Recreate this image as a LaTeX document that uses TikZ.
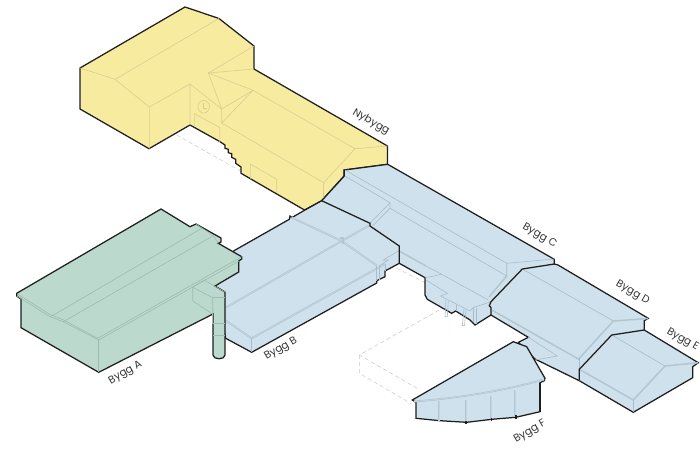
\documentclass[tikz,border=0pt]{standalone}
\usepackage{fontspec}
\setmainfont{Poppins}
\definecolor{yel}{HTML}{F7EBA0}
\definecolor{yelL}{HTML}{D8CE90}
\definecolor{grn}{HTML}{BBD9CC}
\definecolor{grnL}{HTML}{9CBCAE}
\definecolor{blu}{HTML}{CFE1EC}
\definecolor{bluL}{HTML}{A8BDC9}
\definecolor{bluP}{HTML}{B2C6D2}
\definecolor{ink}{HTML}{1E1E1E}
\tikzset{
 x=1pt,y=-1pt,
 outline/.style={draw=ink,line width=1.25pt,line join=miter},
 edgeline/.style={draw=ink,line width=1.25pt},
 yline/.style={draw=yelL,line width=.6pt},
 gline/.style={draw=grnL,line width=.6pt},
 bline/.style={draw=bluL,line width=.6pt},
 bthick/.style={draw=bluP,line width=1.5pt},
 bdouble/.style={draw=bluP,line width=.6pt,double=blu!60!bluP,double distance=.7pt},
 ghost/.style={draw=black!22,line width=.5pt,dash pattern=on 4pt off 3pt},
 lab/.style={font=\fontsize{10.5}{12}\selectfont,text=black!80,inner sep=0pt},
}
\begin{document}
\begin{tikzpicture}
\useasboundingbox (0,0) rectangle (700,469);
% ghost outlines
\draw[ghost] (176.7,135) -- (241.7,171.7);
\draw[ghost] (396.7,268.3) -- (425.3,282.7);
\draw[ghost] (445,306.7) -- (359.3,355) -- (420,390);
\draw[ghost] (359.3,355) -- (359.3,373.3) -- (411.7,404);
% Nybygg
\fill[yel,outline] (80,68) -- (185,7) -- (219,18.5) -- (254,46) -- (254,69) -- (387.5,146) -- (387.5,164.3) -- (344,170) -- (344,176) -- (321.7,200.7) -- (304.5,210) -- (241,173.3) -- (241,167) -- (235.7,163.3) -- (235.7,159.3) -- (231.7,157.3) -- (231.7,153.7) -- (228.3,152.7) -- (228.3,149.3) -- (225,148.3) -- (225,145) -- (220,141.7) -- (190,125) -- (149,148.7) -- (80,109) -- cycle;
\draw[yline] (80,68) -- (115,79.3) -- (219,18.5);
\draw[yline] (115,79.3) -- (149.3,107) -- (149.3,148.7);
\draw[yline] (149.3,107) -- (190,84) -- (190,125);
\draw[yline] (190,84) -- (221.7,109) -- (208.3,73) -- (254,46);
\draw[yline] (208.3,73) -- (254,69);
\draw[yline] (208.3,73) -- (253,90.3) -- (221.7,109) -- (221.7,123) -- (253,90.3);
\draw[yline] (253,90.3) -- (355,148.7) -- (387.5,146);
\draw[yline] (355,148.7) -- (323.7,182.7) -- (221.7,123);
\draw[yline] (323.7,182.7) -- (323.7,199);
\draw[yline] (194.3,127) -- (194.3,113.7) -- (219.7,127.5) -- (219.7,142);
\draw[yline] (250.3,179) -- (250.3,164) -- (276.7,179.3) -- (276.7,193);
\draw[yline] (203.7,106.7) circle[x radius=5.8,y radius=6.3];
\draw[yline] (203.5,102.5) -- (203.5,108) -- (206.5,108);
% main blue body B C D E
\fill[blu,outline] (234,250.7) -- (289.3,219.3) -- (290,216) -- (292,217.5) -- (305,210) -- (321.7,200.7) -- (344.3,176) -- (344.3,170) -- (387.7,164.3) -- (554.3,259.3) -- (554.3,264) -- (558,265) -- (648.3,318.3) -- (644.3,320.7) -- (644.3,330) -- (698.3,362.7) -- (692.7,366.7) -- (692.7,377.7) -- (633.3,412.3) -- (579.3,380.7) -- (535,359) -- (518.3,342.3) -- (528.3,337.3) -- (491,315) -- (475,325) -- (470,320) -- (455.7,311) -- (451.7,313.3) -- (427.3,299.3) -- (425,295) -- (425,277.7) -- (399.3,263.3) -- (385,271) -- (385,276.7) -- (376.7,280.7) -- (376.7,283) -- (251.7,352.3) -- (225.7,338.3) -- (215,286) -- cycle;
% Bygg C lines
\draw[bline] (345,170) -- (506.7,263.3) -- (554,259);
\draw[bline] (345,176) -- (390,202.7) -- (370,223.3);
\draw[bline] (390,208.3) -- (506.7,276) -- (506.7,263.3);
\draw[bline] (390,202.7) -- (390,208.3) -- (372.5,226);
\draw[bthick] (506.7,276) -- (489,297);
\draw[bthick] (400,251.5) -- (426,266);
\draw[bline] (426,266) -- (441.7,274.3) -- (488.3,300);
\draw[bline] (425.5,277.7) -- (441.7,274.3);
\draw[bline] (426,280) -- (447.3,293.3) -- (440.7,296) -- (470,311) -- (473,307.7) -- (491,301.7);
\draw[bline] (476,308) -- (476,323.5);
\draw[bline] (473,308) -- (473,322);
\draw[bline] (456,305) -- (456,311);
\draw[bline] (446,300) -- (445,316.7) -- (447.3,316.7) -- (448.3,301);
\draw[bline] (464,309) -- (462.3,325.7) -- (464.5,325.7) -- (466,310);
% Bygg B lines
\draw[bdouble] (226,307.5) -- (341.7,241) -- (370,225);
\draw[bdouble] (291.7,217.5) -- (341.7,241) -- (376.7,265.5);
\draw[bdouble] (225.7,320.5) -- (251.7,338.3) -- (385,264);
\draw[bline] (251.7,338.3) -- (251.7,352.3);
\draw[bline] (385,264) -- (385,271);
\draw[bline] (376.7,265.5) -- (376.7,281);
\draw[bline] (379,266) -- (379,280);
\draw[bline] (379,266) -- (388.3,260) -- (383.3,260) -- (398.8,250.7);
\draw[bthick] (340,238) -- (343,238) -- (343,243.5);
% Bygg D / E lines
\draw[bline] (522.3,269) -- (613.3,321);
\draw[bthick] (613.3,321) -- (648,318.5);
\draw[bthick] (613.3,321) -- (579.3,358.3);
\draw[bthick] (491.7,310) -- (579.3,359.5);
\draw[bline] (528.3,337.3) -- (557.3,356) -- (535,360);
\draw[bline] (579.3,358.3) -- (579.3,380.7);
\draw[bline] (611.7,335) -- (665,366);
\draw[bthick] (665,366) -- (698,362.7);
\draw[bthick] (665,366) -- (633.3,400) -- (579.3,369.3);
\draw[bline] (633.3,400) -- (633.3,412.3);
% black internal boundaries
\draw[edgeline] (321.7,200.7) -- (370,223.3) -- (370,226) -- (399.3,246) -- (399.3,263.3);
\draw[edgeline] (554.3,264) -- (522.3,269) -- (491,301.7) -- (489.3,305.7) -- (491,307.7) -- (491,315);
\draw[edgeline] (644.3,330) -- (611.7,335) -- (579.3,369.3) -- (579.3,380.7);
% Bygg F
\fill[blu,outline] (412.3,400) -- (513.3,341.7) -- (526.7,346.7) -- (545,378.3) -- (544.3,380.7) -- (540,382.7) -- (540,411.7) -- (515.7,417.3) -- (491.7,419.3) -- (466.7,422.3) -- (440,420.7) -- (416,418.3) -- (416,402.3) -- cycle;
\draw[bdouble] (414,401.5) .. controls (440,399.5) and (490,394.5) .. (544,379.5);
\foreach \xa/\ya/\yb in {439.3/401/420.7,466/400/422,491/396/419,515/390/416.5}{
  \draw[bdouble] (\xa,\ya) -- (\xa,\yb);
}
\draw[edgeline] (466,421) -- (466,423.5);
\draw[edgeline] (491.5,418) -- (491.5,420.5);
\draw[edgeline] (516,415) -- (516,418.5);
\draw[edgeline] (540,382.7) -- (540,411.7);
% Bygg A
\fill[grn,outline] (16.7,293.3) -- (161,209) -- (190,226.7) -- (196,224) -- (221,238) -- (221,242) -- (218.3,243.3) -- (241.7,256.7) -- (241.7,259) -- (238.7,261) -- (238.7,272) -- (215,286) -- (225,292) -- (225,355) .. controls (225,360) and (213,360) .. (213,355) -- (213,314) -- (98.7,372.3) -- (21,327.7) -- (21,299) -- (16.7,296) -- cycle;
\draw[gline] (17,296) -- (50,316.7) -- (63.3,321.7) -- (98.7,340) -- (239,261);
\draw[gline] (17.5,294) -- (50,314.5) -- (63.3,319.8) -- (97.7,338.3) -- (241.7,256.7);
\draw[gline] (98.7,340) -- (98.7,372.3);
\draw[gline] (50.7,316.7) -- (201.7,228.3);
\draw[gline] (196,224) -- (213.3,235.7) -- (218.3,243.3);
\draw[gline] (63.3,321.7) -- (213.3,235.7);
\draw[gline] (192.7,287.3) -- (192.7,301) -- (212.7,314);
\draw[gline] (192.7,287.3) -- (204,280) -- (225,292);
\draw[gline] (192.7,287.3) -- (212.7,297.7) -- (212.7,314);
\draw[gline] (212.7,297.7) -- (225,297.7);
\draw[gline] (212.7,314) -- (212.7,323.3) -- (225,323.3);
\draw[gline] (212.7,335) -- (225,335);
% labels
\node[lab,rotate=-30] (nybygg) at (371,122) {Nybygg};
\node[lab,rotate=30] (byggA) at (125.5,373) {Bygg A};
\node[lab,rotate=30] (byggB) at (281,349) {Bygg B};
\node[lab,rotate=-30] (byggC) at (539.5,236) {Bygg C};
\node[lab,rotate=-30] (byggD) at (632.5,293) {Bygg D};
\node[lab,rotate=-30] (byggE) at (682.5,340) {Bygg E};
\node[lab,rotate=30] (byggF) at (530,432) {Bygg F};
\end{tikzpicture}
\end{document}
